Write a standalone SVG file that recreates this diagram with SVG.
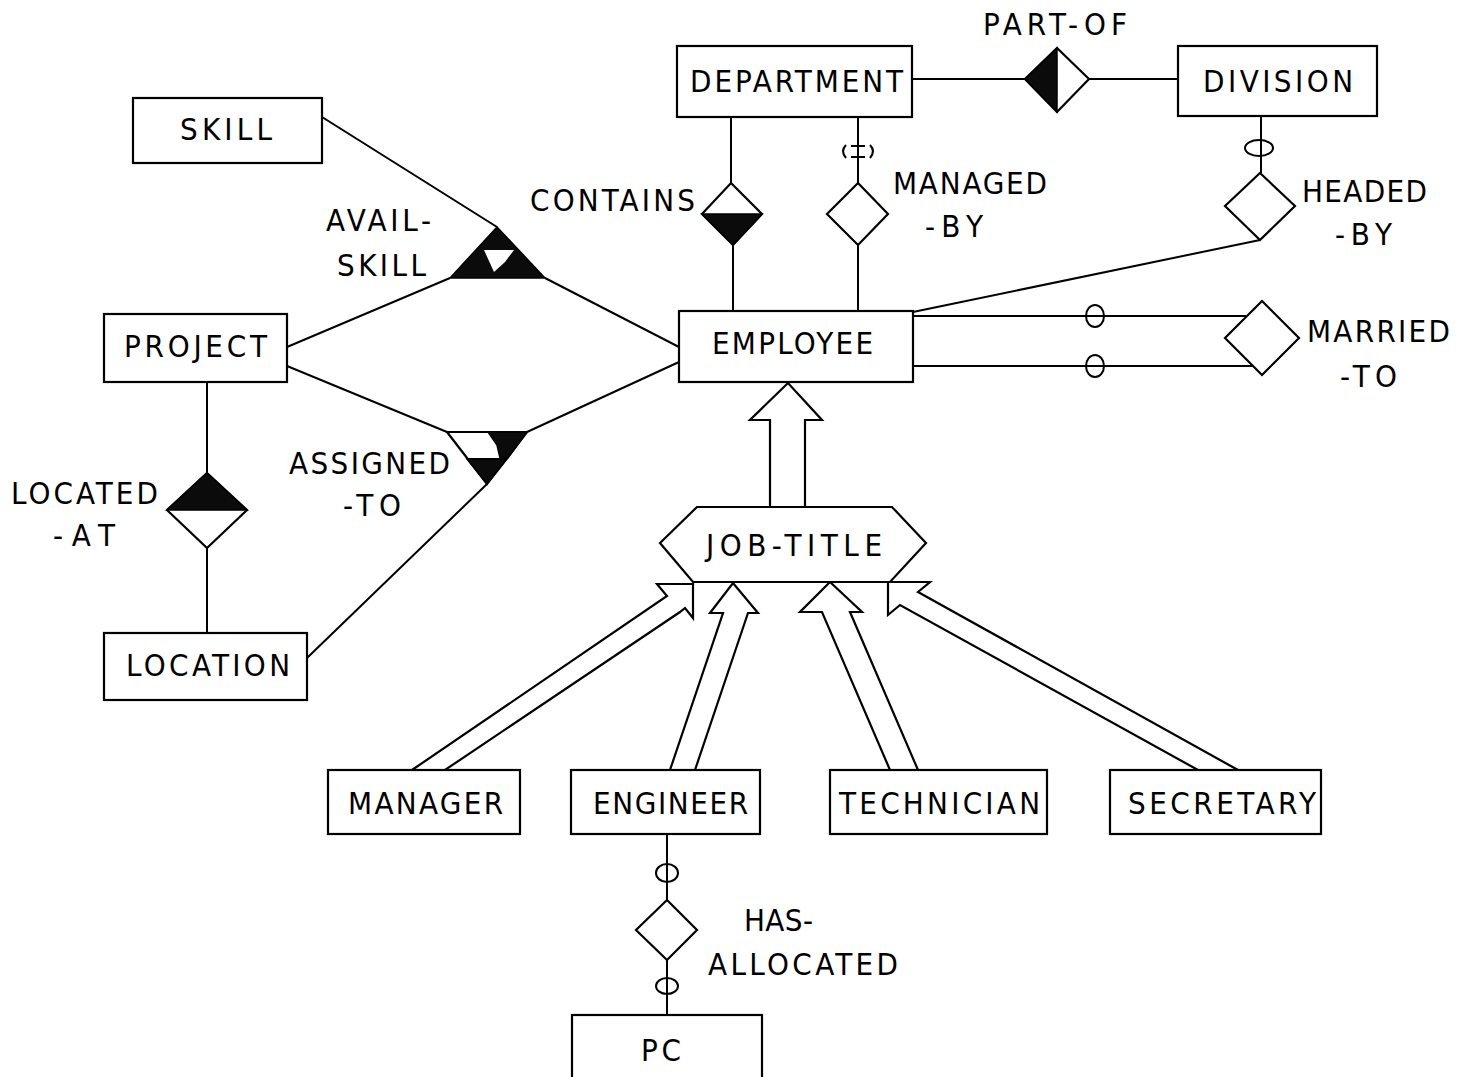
<svg xmlns="http://www.w3.org/2000/svg" width="1468" height="1077" viewBox="0 0 1468 1077">
  <style>
    .ent{fill:#fff;stroke:#000;stroke-width:2.2}
    .rel{fill:#fff;stroke:#000;stroke-width:2.2;stroke-linejoin:miter}
    .solid{fill:#0b0b0b;stroke:#000;stroke-width:1.5;stroke-linejoin:miter}
    .hole{fill:#fff;stroke:none}
    .ln{fill:none;stroke:#000;stroke-width:2}
    .ring{fill:none;stroke:#000;stroke-width:2}
    .isa{fill:#fff;stroke:#000;stroke-width:2.2;stroke-linejoin:miter}
    text{font-family:"Liberation Sans Narrow","DejaVu Sans Condensed","Liberation Sans",sans-serif;font-size:31px;fill:#000}
  </style>
  <rect width="1468" height="1077" fill="#fff"/>

  <!-- connectors -->
  <g id="connectors">
    <!-- DEPARTMENT / PART-OF / DIVISION -->
    <path class="ln" d="M912,79 H1025 M1089,79 H1178"/>
    <!-- CONTAINS -->
    <path class="ln" d="M731,117 V183 M733,245 V311"/>
    <!-- MANAGED-BY -->
    <path class="ln" d="M858,117 V183 M858,245 V311"/>
    <path class="ring" d="M846,145 q-6,6 0,13 M870,145 q6,6 0,13 M851,146 h14 M851,157 h14"/>
    <!-- HEADED-BY -->
    <path class="ln" d="M1261,116 V173 M1260,240 L913,312"/>
    <ellipse class="ring" cx="1259" cy="148" rx="14" ry="8"/>
    <!-- MARRIED-TO -->
    <path class="ln" d="M913,316 H1246 M913,366 H1254"/>
    <ellipse class="ring" cx="1095" cy="316" rx="9" ry="11"/>
    <ellipse class="ring" cx="1095" cy="366" rx="9" ry="11"/>
    <!-- AVAIL-SKILL -->
    <path class="ln" d="M322,117 L497,227 M287,347 L450,278 M545,278 L679,347"/>
    <!-- ASSIGNED-TO -->
    <path class="ln" d="M287,366 L447,432 M527,432 L679,362 M487,484 L307,658"/>
    <!-- LOCATED-AT -->
    <path class="ln" d="M207,382 V473 M207,548 V633"/>
    <!-- HAS-ALLOCATED -->
    <path class="ln" d="M667,834 V900 M667,960 V1015"/>
    <ellipse class="ring" cx="667" cy="873" rx="11" ry="9"/>
    <ellipse class="ring" cx="667" cy="986" rx="11" ry="8"/>

    <!-- generalisation arrows -->
    <polygon class="isa" points="770,507 770,420 750,420 788,383 822,420 805,420 805,507"/>
    <polygon class="isa" points="412,770 667,596 657,584 693,584 693,618 685,608 680,612 445,770"/>
    <polygon class="isa" points="670,770 723,613 710,613 733,583 758,613 748,613 695,770"/>
    <polygon class="isa" points="890,770 822,612 800,612 830,582 862,612 850,612 918,770"/>
    <polygon class="isa" points="1198,770 900,605 888,615 888,582 930,582 918,592 1238,770"/>
  </g>

  <!-- entities -->
  <g id="department">
    <rect class="ent" x="677" y="46" width="235" height="71"/>
    <text x="690" y="92" textLength="213" lengthAdjust="spacing">DEPARTMENT</text>
  </g>
  <g id="division">
    <rect class="ent" x="1178" y="46" width="199" height="70"/>
    <text x="1203" y="92" textLength="150" lengthAdjust="spacing">DIVISION</text>
  </g>
  <g id="skill">
    <rect class="ent" x="133" y="98" width="189" height="65"/>
    <text x="180" y="140" textLength="92" lengthAdjust="spacing">SKILL</text>
  </g>
  <g id="project">
    <rect class="ent" x="104" y="314" width="183" height="68"/>
    <text x="124" y="357" textLength="143" lengthAdjust="spacing">PROJECT</text>
  </g>
  <g id="employee">
    <rect class="ent" x="679" y="311" width="234" height="71"/>
    <text x="712" y="354" textLength="161" lengthAdjust="spacing">EMPLOYEE</text>
  </g>
  <g id="location">
    <rect class="ent" x="104" y="633" width="203" height="67"/>
    <text x="126" y="676" textLength="164" lengthAdjust="spacing">LOCATION</text>
  </g>
  <g id="manager">
    <rect class="ent" x="328" y="770" width="192" height="64"/>
    <text x="348" y="814" textLength="155" lengthAdjust="spacing">MANAGER</text>
  </g>
  <g id="engineer">
    <rect class="ent" x="571" y="770" width="189" height="64"/>
    <text x="593" y="814" textLength="155" lengthAdjust="spacing">ENGINEER</text>
  </g>
  <g id="technician">
    <rect class="ent" x="830" y="770" width="217" height="64"/>
    <text x="839" y="814" textLength="201" lengthAdjust="spacing">TECHNICIAN</text>
  </g>
  <g id="secretary">
    <rect class="ent" x="1110" y="770" width="211" height="64"/>
    <text x="1128" y="814" textLength="188" lengthAdjust="spacing">SECRETARY</text>
  </g>
  <g id="pc">
    <rect class="ent" x="572" y="1015" width="190" height="70"/>
    <text x="641" y="1061" textLength="40" lengthAdjust="spacing">PC</text>
  </g>

  <!-- generalisation node -->
  <g id="job-title">
    <polygon class="isa" points="697,507 892,507 926,543 890,582 693,582 660,543"/>
    <text x="706" y="556" textLength="176" lengthAdjust="spacing">JOB-TITLE</text>
  </g>

  <!-- relationships -->
  <g id="part-of">
    <polygon class="rel" points="1057,48 1089,79 1057,112 1025,79"/>
    <polygon class="solid" points="1057,48 1025,79 1057,112"/>
    <text x="983" y="35" textLength="144" lengthAdjust="spacing">PART-OF</text>
  </g>
  <g id="contains">
    <polygon class="rel" points="731,183 762,214 733,245 702,214"/>
    <polygon class="solid" points="702,214 762,214 733,245"/>
    <text x="530" y="211" textLength="165" lengthAdjust="spacing">CONTAINS</text>
  </g>
  <g id="managed-by">
    <polygon class="rel" points="858,183 888,214 858,245 827,214"/>
    <text x="893" y="194" textLength="154" lengthAdjust="spacing">MANAGED</text>
    <text x="925" y="237" textLength="58" lengthAdjust="spacing">-BY</text>
  </g>
  <g id="headed-by">
    <polygon class="rel" points="1260,173 1295,206 1260,240 1225,206"/>
    <text x="1302" y="202" textLength="125" lengthAdjust="spacing">HEADED</text>
    <text x="1335" y="245" textLength="57" lengthAdjust="spacing">-BY</text>
  </g>
  <g id="married-to">
    <polygon class="rel" points="1262,301 1299,338 1262,375 1225,338"/>
    <text x="1307" y="342" textLength="143" lengthAdjust="spacing">MARRIED</text>
    <text x="1340" y="387" textLength="57" lengthAdjust="spacing">-TO</text>
  </g>
  <g id="avail-skill">
    <polygon class="solid" points="497,227 545,278 450,278"/>
    <polygon class="hole" points="484,250 514,250 505,262 494,272"/>
    <text x="326" y="231" textLength="105" lengthAdjust="spacing">AVAIL-</text>
    <text x="337" y="276" textLength="89" lengthAdjust="spacing">SKILL</text>
  </g>
  <g id="assigned-to">
    <polygon class="rel" points="447,432 527,432 487,484"/>
    <path class="ln" d="M467,459 H507"/>
    <polygon class="solid" points="488,432 527,432 508,458 500,458 497,445"/>
    <polygon class="solid" points="467,459 507,459 487,484"/>
    <text x="289" y="474" textLength="161" lengthAdjust="spacing">ASSIGNED</text>
    <text x="343" y="516" textLength="58" lengthAdjust="spacing">-TO</text>
  </g>
  <g id="located-at">
    <polygon class="rel" points="207,473 247,510 207,548 167,510"/>
    <polygon class="solid" points="167,510 207,473 247,510"/>
    <text x="11" y="504" textLength="147" lengthAdjust="spacing">LOCATED</text>
    <text x="53" y="546" textLength="62" lengthAdjust="spacing">-AT</text>
  </g>
  <g id="has-allocated">
    <polygon class="rel" points="667,900 697,930 667,960 636,930"/>
    <text x="744" y="931" textLength="69" lengthAdjust="spacing">HAS-</text>
    <text x="708" y="975" textLength="190" lengthAdjust="spacing">ALLOCATED</text>
  </g>
</svg>
